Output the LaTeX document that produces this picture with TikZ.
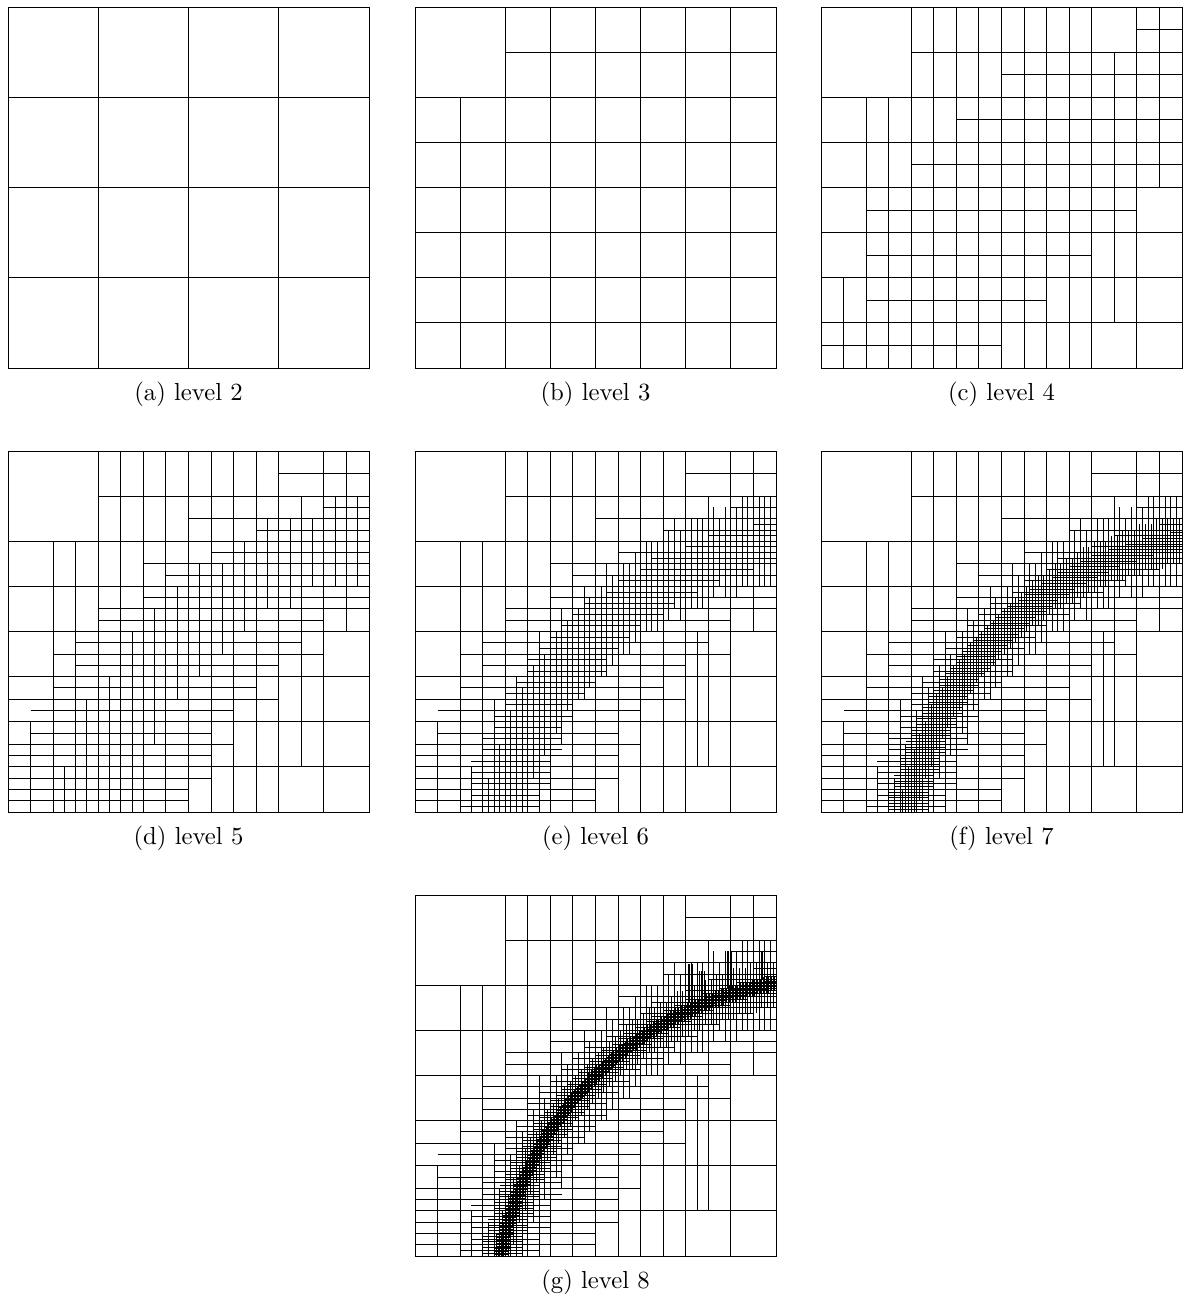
\documentclass[tikz,border=0pt]{standalone}
\usepackage{tikz}

% front of the refinement: circle with centre (\frontx,\fronty) and radius \frontr
\newcommand{\frontx}{1.1516}
\newcommand{\fronty}{-0.160}
\newcommand{\frontr}{0.9275}

\tikzset{
  meshline/.style={line width=0.38pt, black},
  unitpanel/.style={x=146.2pt, y=146.2pt},
  cellgrid/.style={shift={(0,1)}, x=9.1375pt, y=-9.1375pt},
  captext/.style={inner sep=1pt}
}

% coarse meshes, in cells of 1/16 (y counted from the top)
\newcommand{\meshtwo}{%
  \draw (0,0) rectangle (16,16);
  \foreach \xa in {4,8,12}{\draw (\xa,0) -- (\xa,16); \draw (0,\xa) -- (16,\xa);}
}
\newcommand{\meshthree}{%
  \meshtwo
  \draw (2,4) -- (2,16);
  \draw (4,2) -- (16,2);
  \foreach \xa in {6,10,14}{\draw (\xa,0) -- (\xa,16); \draw (0,\xa) -- (16,\xa);}
}
\newcommand{\meshfour}{%
  \meshthree
  \foreach \xa/\ya/\yb in {1/12/16, 3/4/16, 5/0/16, 7/0/16, 9/0/16, 11/0/16, 13/2/14, 15/0/8}
    {\draw (\xa,\ya) -- (\xa,\yb);}
  \foreach \xa/\ya/\yb in {3/8/16, 5/6/16, 7/4/16, 9/2/14, 15/0/8}
    {\draw (\ya,\xa) -- (\yb,\xa);}
}

% lines of one finer level near the front
% #1 cells per side, #2 core half width, #3 extra for vertical lines, #4 extra for horizontal lines
\newcommand{\bandlines}[4]{%
  \pgfmathtruncatemacro{\mlast}{#1-1}%
  \foreach \k in {1,3,...,\mlast}{%
    \pgfmathsetmacro{\mc}{\k/#1}%
    % vertical line
    \pgfmathsetmacro{\mq}{(\mc-\frontx)^2}%
    \pgfmathsetmacro{\mn}{max(0,(\frontr^2-\mq)/\frontr^2)}%
    \pgfmathsetmacro{\mw}{#2+#3*\mn}%
    \pgfmathsetmacro{\mlo}{\fronty+sqrt(max(0,(\frontr-\mw)^2-\mq))}%
    \pgfmathsetmacro{\mhi}{\fronty+sqrt(max(0,(\frontr+\mw)^2-\mq))}%
    \pgfmathsetmacro{\mlo}{max(0,round(\mlo*#1/2)*2/#1)}%
    \pgfmathsetmacro{\mhi}{min(1,round(\mhi*#1/2)*2/#1)}%
    \ifdim\mhi pt>\mlo pt\draw (\mc,\mlo) -- (\mc,\mhi);\fi
    % horizontal line
    \pgfmathsetmacro{\mq}{(\mc-(\fronty))^2}%
    \pgfmathsetmacro{\mn}{max(0,(\frontr^2-\mq)/\frontr^2)}%
    \pgfmathsetmacro{\mw}{#2+#4*\mn}%
    \pgfmathsetmacro{\mlo}{\frontx-sqrt(max(0,(\frontr+\mw)^2-\mq))}%
    \pgfmathsetmacro{\mhi}{\frontx-sqrt(max(0,(\frontr-\mw)^2-\mq))}%
    \pgfmathsetmacro{\mlo}{max(0,round(\mlo*#1/2)*2/#1)}%
    \pgfmathsetmacro{\mhi}{min(1,round(\mhi*#1/2)*2/#1)}%
    \ifdim\mhi pt>\mlo pt\draw (\mlo,\mc) -- (\mhi,\mc);\fi
  }%
}

\newcommand{\basefine}{%
  \begin{scope}[cellgrid]
    \meshfour
    \draw (12,1) -- (16,1);
    \draw (0,11) -- (12,11);
    \draw (0,13) -- (10,13);
  \end{scope}
}

\begin{document}
\begin{tikzpicture}[x=0.405pt, y=-0.405pt, meshline]
  \useasboundingbox (0,0) rectangle (1185,1297);

  % first row
  \begin{scope}[shift={(8,368)}, unitpanel]
    \begin{scope}[cellgrid] \meshtwo \end{scope}
  \end{scope}
  \node[captext] (capa) at (188.5,394) {(a) level 2};

  \begin{scope}[shift={(415,368)}, unitpanel]
    \begin{scope}[cellgrid] \meshthree \end{scope}
  \end{scope}
  \node[captext] (capb) at (595.5,394) {(b) level 3};

  \begin{scope}[shift={(821,368)}, unitpanel]
    \begin{scope}[cellgrid]
      \meshfour
      \draw (14,1) -- (16,1);
      \draw (2,11) -- (12,11);
      \draw (2,13) -- (10,13);
    \end{scope}
  \end{scope}
  \node[captext] (capc) at (1001.5,394) {(c) level 4};

  % second row
  \begin{scope}[shift={(8,812)}, unitpanel]
    \basefine
    \bandlines{32}{0.11}{0}{0.17}
  \end{scope}
  \node[captext] (capd) at (188.5,838) {(d) level 5};

  \begin{scope}[shift={(415,812)}, unitpanel]
    \basefine
    \begin{scope}[cellgrid] \draw (12.5,8) -- (12.5,14); \end{scope}
    \bandlines{32}{0.11}{0}{0.17}
    \bandlines{64}{0.055}{0.07}{0.05}
  \end{scope}
  \node[captext] (cape) at (595.5,838) {(e) level 6};

  \begin{scope}[shift={(821,812)}, unitpanel]
    \basefine
    \begin{scope}[cellgrid] \draw (12.5,8) -- (12.5,14); \end{scope}
    \bandlines{32}{0.11}{0}{0.17}
    \bandlines{64}{0.055}{0.07}{0.05}
    \bandlines{128}{0.025}{0.04}{0.03}
  \end{scope}
  \node[captext] (capf) at (1001.5,838) {(f) level 7};

  % last row
  \begin{scope}[shift={(415,1256)}, unitpanel]
    \basefine
    \begin{scope}[cellgrid] \draw (12.5,8) -- (12.5,14); \end{scope}
    \bandlines{32}{0.11}{0}{0.17}
    \bandlines{64}{0.055}{0.07}{0.05}
    \bandlines{128}{0.025}{0.04}{0.03}
    \bandlines{256}{0.012}{0.01}{0.008}
    % thin spikes above the front
    \foreach \xa/\ya/\yb in {0.757/0.70/0.81, 0.789/0.714/0.79, 0.865/0.742/0.845, 0.955/0.766/0.845}
      \foreach \j in {0,1,2,3}
        {\draw (\xa+\j/256,\ya) -- (\xa+\j/256,\yb);}
  \end{scope}
  \node[captext] (capg) at (595.5,1282) {(g) level 8};
\end{tikzpicture}
\end{document}
